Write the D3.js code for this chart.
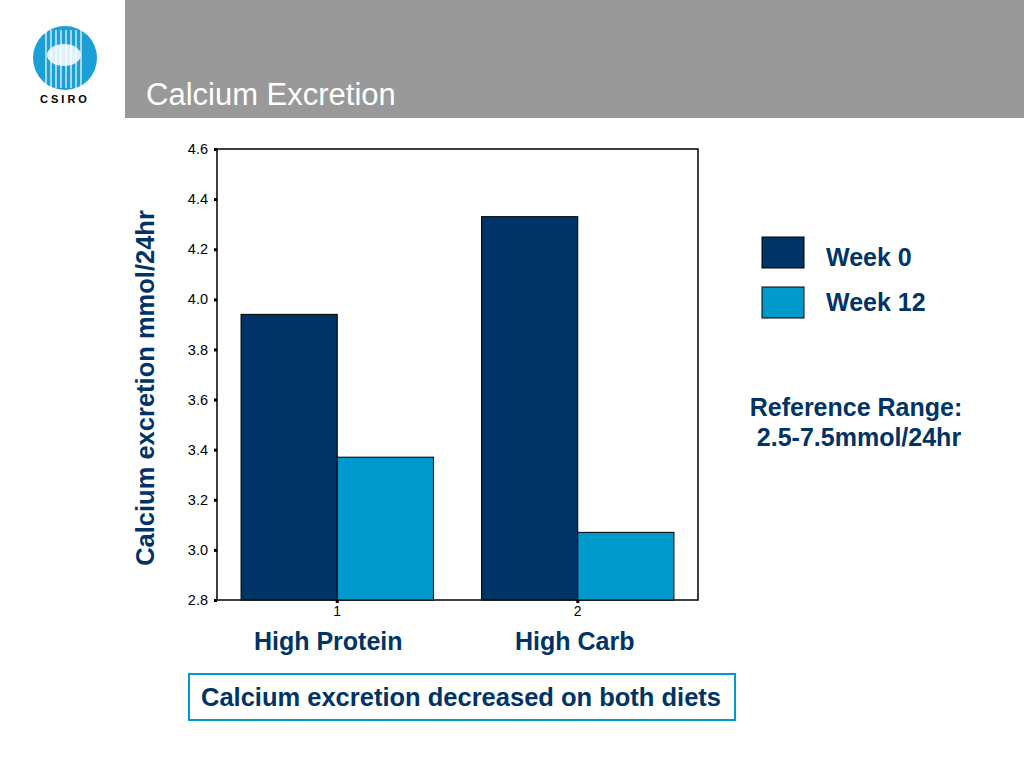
<!DOCTYPE html>
<html><head><meta charset="utf-8">
<script src="https://cdn.jsdelivr.net/npm/d3@7"></script>
<style>body{margin:0;background:#fff}svg{font-family:"Liberation Sans",Arial,sans-serif}</style>
</head><body><svg id="chart"></svg>
<script>
const categories = ["1", "2"];
const groupNames = ["High Protein", "High Carb"];
const seriesNames = ["Week 0", "Week 12"];
const week0 = [3.94, 4.33];
const week12 = [3.37, 3.07];
const yTicks = [2.8, 3.0, 3.2, 3.4, 3.6, 3.8, 4.0, 4.2, 4.4, 4.6];
const colors = ["#003366", "#0099cc"];

const svg = d3.select("#chart").attr("width", 1024).attr("height", 768);

// header
svg.append("rect").attr("x", 125).attr("y", 0).attr("width", 899).attr("height", 118).attr("fill", "#999999");
svg.append("text").attr("x", 146).attr("y", 105).attr("font-size", 31).attr("fill", "#fff").text("Calcium Excretion");

// logo
const logo = svg.append("g");
logo.append("circle").attr("cx", 65).attr("cy", 58).attr("r", 32).attr("fill", "#1a9fd6");
d3.range(46, 86, 5).forEach(x => logo.append("line").attr("x1", x).attr("x2", x)
  .attr("y1", 30).attr("y2", 88).attr("stroke", "#fff").attr("stroke-width", 1.2));
logo.append("ellipse").attr("cx", 64).attr("cy", 55).attr("rx", 17).attr("ry", 11).attr("fill", "#fff").attr("opacity", 0.85);
logo.append("text").attr("x", 65).attr("y", 103).attr("text-anchor", "middle").attr("font-size", 11)
  .attr("font-weight", "bold").attr("letter-spacing", 3).text("CSIRO");

// chart
const x0 = 217, x1 = 698, yTop = 149, yBot = 600;
const y = d3.scaleLinear().domain([2.8, 4.6]).range([yBot, yTop]);
const x = d3.scaleBand().domain(categories).range([x0, x1]).paddingInner(0.2).paddingOuter(0.1);
const xs = d3.scaleBand().domain(seriesNames).range([0, x.bandwidth()]);

const g = svg.append("g");
g.append("rect").attr("x", x0).attr("y", yTop).attr("width", x1 - x0).attr("height", yBot - yTop)
  .attr("fill", "none").attr("stroke", "#000").attr("stroke-width", 1.5);

categories.forEach((c, i) => {
  [week0[i], week12[i]].forEach((v, j) => {
    g.append("rect").attr("x", x(c) + xs(seriesNames[j])).attr("y", y(v))
      .attr("width", xs.bandwidth()).attr("height", yBot - y(v))
      .attr("fill", colors[j]).attr("stroke", "#000").attr("stroke-width", 1);
  });
});

const yAxis = g.append("g").attr("transform", `translate(${x0},0)`)
  .attr("font-size", 14.5)
  .call(d3.axisLeft(y).tickValues(yTicks).tickFormat(d3.format(".1f")).tickSize(3).tickPadding(6));
yAxis.attr("font-size", 14.5).attr("font-family", "Liberation Sans, Arial");
yAxis.select(".domain").remove();
yAxis.selectAll("line").attr("stroke-width", 3);
yAxis.selectAll("text").attr("fill", "#000");

const xAxis = g.append("g").attr("transform", `translate(0,${yBot})`)
  .call(d3.axisBottom(x).tickSize(3).tickPadding(3));
xAxis.attr("font-size", 14).attr("font-family", "Liberation Sans, Arial");
xAxis.select(".domain").remove();
xAxis.selectAll("line").attr("stroke-width", 3);
xAxis.selectAll("text").attr("fill", "#000");

const labelShift = [-9, -3];
categories.forEach((c, i) => {
  svg.append("text").attr("x", x(c) + x.bandwidth()/2 + labelShift[i]).attr("y", 650).attr("text-anchor", "middle")
    .attr("font-size", 25).attr("font-weight", "bold").attr("fill", "#003366").text(groupNames[i]);
});

svg.append("text").attr("transform", "translate(154,388) rotate(-90)").attr("text-anchor", "middle")
  .attr("font-size", 25.5).attr("font-weight", "bold").attr("fill", "#003366").text("Calcium excretion mmol/24hr");

// legend
seriesNames.forEach((s, i) => {
  svg.append("rect").attr("x", 762).attr("y", 237 + i * 50).attr("width", 42).attr("height", 31)
    .attr("fill", colors[i]).attr("stroke", "#000").attr("stroke-width", 1);
  svg.append("text").attr("x", 826).attr("y", 266 + i * 45).attr("font-size", 25).attr("font-weight", "bold")
    .attr("fill", "#003366").text(s);
});
svg.append("text").attr("x", 856).attr("y", 416).attr("text-anchor", "middle").attr("font-size", 25)
  .attr("font-weight", "bold").attr("fill", "#003366").text("Reference Range:");
svg.append("text").attr("x", 859).attr("y", 446).attr("text-anchor", "middle").attr("font-size", 25)
  .attr("font-weight", "bold").attr("fill", "#003366").text("2.5-7.5mmol/24hr");

// callout
svg.append("rect").attr("x", 189).attr("y", 674).attr("width", 546).attr("height", 46)
  .attr("fill", "#fff").attr("stroke", "#0099cc").attr("stroke-width", 2);
svg.append("text").attr("x", 461).attr("y", 706).attr("text-anchor", "middle").attr("font-size", 25.5)
  .attr("font-weight", "bold").attr("fill", "#003366").text("Calcium excretion decreased on both diets");
</script></body></html>
